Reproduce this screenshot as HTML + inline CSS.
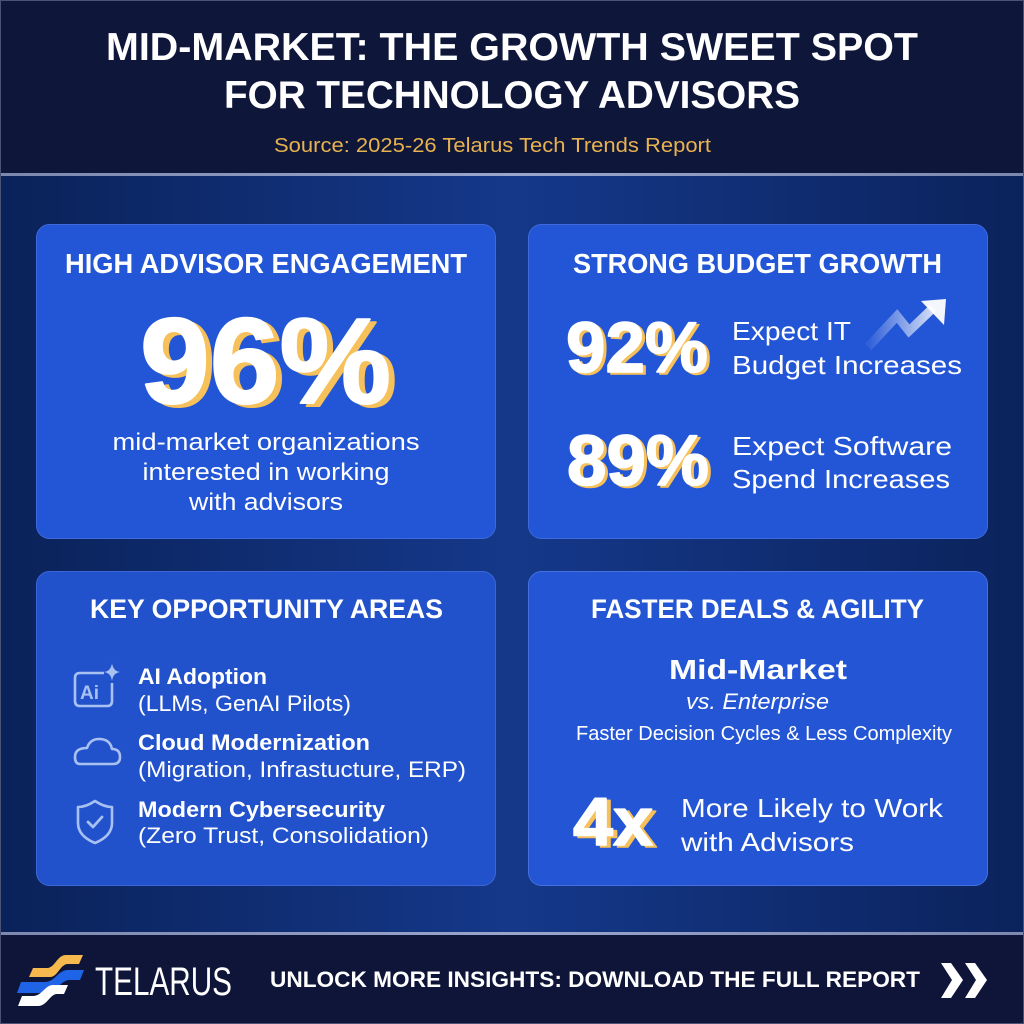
<!DOCTYPE html>
<html>
<head>
<meta charset="utf-8">
<style>
html,body{margin:0;padding:0;background:#0e163a;}
svg{display:block;}
text{font-family:"Liberation Sans",sans-serif;}
</style>
</head>
<body>
<svg width="1024" height="1024" viewBox="0 0 1024 1024" xmlns="http://www.w3.org/2000/svg">
<defs>
  <linearGradient id="mid" x1="0" y1="0" x2="1" y2="0">
    <stop offset="0" stop-color="#0a2259"/>
    <stop offset="0.5" stop-color="#15388a"/>
    <stop offset="1" stop-color="#0b235c"/>
  </linearGradient>
  <linearGradient id="sep" x1="0" y1="0" x2="1" y2="0">
    <stop offset="0" stop-color="#7d88b0"/>
    <stop offset="0.5" stop-color="#9aa6cc"/>
    <stop offset="1" stop-color="#7d88b0"/>
  </linearGradient>
  <linearGradient id="arrow" gradientUnits="userSpaceOnUse" x1="868" y1="0" x2="946" y2="0">
    <stop offset="0" stop-color="#ffffff" stop-opacity="0.05"/>
    <stop offset="0.5" stop-color="#ffffff" stop-opacity="0.5"/>
    <stop offset="1" stop-color="#ffffff" stop-opacity="0.95"/>
  </linearGradient>
</defs>

<!-- header -->
<rect x="0" y="0" width="1024" height="175" fill="#0e163a"/>
<!-- middle -->
<rect x="0" y="175" width="1024" height="760" fill="url(#mid)"/>
<rect x="0" y="173" width="1024" height="3" fill="url(#sep)"/>
<!-- footer -->
<rect x="0" y="935" width="1024" height="89" fill="#0e1539"/>
<rect x="0" y="932" width="1024" height="3" fill="url(#sep)"/>
<rect x="0.5" y="0.5" width="1023" height="1023" fill="none" stroke="#4a5275" stroke-width="1"/>

<!-- header text -->
<text x="106" y="60" font-size="39" font-weight="bold" fill="#ffffff" textLength="812" lengthAdjust="spacingAndGlyphs">MID-MARKET: THE GROWTH SWEET SPOT</text>
<text x="224" y="108" font-size="39" font-weight="bold" fill="#ffffff" textLength="576" lengthAdjust="spacingAndGlyphs">FOR TECHNOLOGY ADVISORS</text>
<text x="274" y="152" font-size="20" fill="#e8b24e" textLength="437" lengthAdjust="spacingAndGlyphs">Source: 2025-26 Telarus Tech Trends Report</text>

<!-- cards -->
<rect x="36.5" y="224.5" width="459" height="314" rx="13" fill="#2356d6" stroke="#3e6ade" stroke-width="1"/>
<rect x="528.5" y="224.5" width="459" height="314" rx="13" fill="#2356d6" stroke="#3e6ade" stroke-width="1"/>
<rect x="36.5" y="571.5" width="459" height="314" rx="13" fill="#2152cb" stroke="#3c66d8" stroke-width="1"/>
<rect x="528.5" y="571.5" width="459" height="314" rx="13" fill="#2355d4" stroke="#4470e0" stroke-width="1"/>

<!-- card 1 -->
<text x="65" y="273" font-size="28" font-weight="bold" fill="#ffffff" textLength="402" lengthAdjust="spacingAndGlyphs">HIGH ADVISOR ENGAGEMENT</text>
<text x="146" y="406" font-size="122" font-weight="bold" fill="#f6c05a" stroke="#f6c05a" stroke-width="2" stroke-linejoin="round" textLength="251" lengthAdjust="spacingAndGlyphs">96%</text>
<text x="140" y="403" font-size="122" font-weight="bold" fill="#ffffff" stroke="#ffffff" stroke-width="2" stroke-linejoin="round" textLength="251" lengthAdjust="spacingAndGlyphs">96%</text>
<text x="266" y="450" font-size="24" fill="#ffffff" text-anchor="middle" textLength="307" lengthAdjust="spacingAndGlyphs">mid-market organizations</text>
<text x="266" y="480" font-size="24" fill="#ffffff" text-anchor="middle" textLength="247" lengthAdjust="spacingAndGlyphs">interested in working</text>
<text x="266" y="510" font-size="24" fill="#ffffff" text-anchor="middle" textLength="154" lengthAdjust="spacingAndGlyphs">with advisors</text>

<!-- card 2 -->
<text x="573" y="273" font-size="28" font-weight="bold" fill="#ffffff" textLength="369" lengthAdjust="spacingAndGlyphs">STRONG BUDGET GROWTH</text>
<text x="569" y="374" font-size="71" font-weight="bold" fill="#f6c05a" stroke="#f6c05a" stroke-width="1.5" stroke-linejoin="round" textLength="142" lengthAdjust="spacingAndGlyphs">92%</text>
<text x="566" y="372" font-size="71" font-weight="bold" fill="#ffffff" stroke="#ffffff" stroke-width="1.5" stroke-linejoin="round" textLength="142" lengthAdjust="spacingAndGlyphs">92%</text>
<text x="732" y="340" font-size="26" fill="#ffffff" textLength="119" lengthAdjust="spacingAndGlyphs">Expect IT</text>
<text x="732" y="374" font-size="26" fill="#ffffff" textLength="230" lengthAdjust="spacingAndGlyphs">Budget Increases</text>
<polyline points="868,347 897,316 909,331 933,308" fill="none" stroke="url(#arrow)" stroke-width="9" stroke-linejoin="miter"/>
<polygon points="921,301 946,299 944,325" fill="#ffffff" fill-opacity="0.95"/>
<text x="570" y="487" font-size="71" font-weight="bold" fill="#f6c05a" stroke="#f6c05a" stroke-width="1.5" stroke-linejoin="round" textLength="142" lengthAdjust="spacingAndGlyphs">89%</text>
<text x="567" y="485" font-size="71" font-weight="bold" fill="#ffffff" stroke="#ffffff" stroke-width="1.5" stroke-linejoin="round" textLength="142" lengthAdjust="spacingAndGlyphs">89%</text>
<text x="732" y="455" font-size="26" fill="#ffffff" textLength="220" lengthAdjust="spacingAndGlyphs">Expect Software</text>
<text x="732" y="488" font-size="26" fill="#ffffff" textLength="218" lengthAdjust="spacingAndGlyphs">Spend Increases</text>

<!-- card 3 -->
<text x="90" y="618" font-size="27" font-weight="bold" fill="#ffffff" textLength="353" lengthAdjust="spacingAndGlyphs">KEY OPPORTUNITY AREAS</text>
<!-- AI icon -->
<path d="M104,673 L80,673 Q75,673 75,678 L75,701 Q75,706 80,706 L107,706 Q112,706 112,701 L112,683" fill="none" stroke="#a9c1f2" stroke-width="2.6"/>
<text x="80" y="699" font-size="19" font-weight="bold" fill="#a9c1f2">Ai</text>
<path d="M112,663 Q113,671 120,672 Q113,673 112,681 Q111,673 104,672 Q111,671 112,663 Z" fill="#a9c1f2"/>
<!-- cloud icon -->
<path d="M80,764 L113,764 Q120,764 120,757 Q120,749 112,749 Q110,739 99,739 Q90,739 87,748 Q75,748 75,757 Q75,764 80,764 Z" fill="none" stroke="#a9c1f2" stroke-width="2.6" stroke-linejoin="round"/>
<!-- shield icon -->
<path d="M95,801 Q104,807 112,807 L112,823 Q112,836 95,843 Q78,836 78,823 L78,807 Q86,807 95,801 Z" fill="none" stroke="#a9c1f2" stroke-width="2.6" stroke-linejoin="round"/>
<polyline points="88,822 93,827 102,817" fill="none" stroke="#a9c1f2" stroke-width="2.8" stroke-linecap="round" stroke-linejoin="round"/>
<text x="138" y="684" font-size="22" font-weight="bold" fill="#ffffff" textLength="129" lengthAdjust="spacingAndGlyphs">AI Adoption</text>
<text x="138" y="711" font-size="22" fill="#ffffff" textLength="213" lengthAdjust="spacingAndGlyphs">(LLMs, GenAI Pilots)</text>
<text x="138" y="750" font-size="22" font-weight="bold" fill="#ffffff" textLength="232" lengthAdjust="spacingAndGlyphs">Cloud Modernization</text>
<text x="138" y="777" font-size="22" fill="#ffffff" textLength="328" lengthAdjust="spacingAndGlyphs">(Migration, Infrastucture, ERP)</text>
<text x="138" y="817" font-size="22" font-weight="bold" fill="#ffffff" textLength="247" lengthAdjust="spacingAndGlyphs">Modern Cybersecurity</text>
<text x="138" y="843" font-size="22" fill="#ffffff" textLength="291" lengthAdjust="spacingAndGlyphs">(Zero Trust, Consolidation)</text>

<!-- card 4 -->
<text x="591" y="618" font-size="27" font-weight="bold" fill="#ffffff" textLength="333" lengthAdjust="spacingAndGlyphs">FASTER DEALS &amp; AGILITY</text>
<text x="669" y="679" font-size="28" font-weight="bold" fill="#ffffff" textLength="178" lengthAdjust="spacingAndGlyphs">Mid-Market</text>
<text x="686" y="709" font-size="22" font-style="italic" fill="#ffffff" textLength="143" lengthAdjust="spacingAndGlyphs">vs. Enterprise</text>
<text x="576" y="740" font-size="20" fill="#ffffff" textLength="376" lengthAdjust="spacingAndGlyphs">Faster Decision Cycles &amp; Less Complexity</text>
<text x="577" y="847" font-size="68" font-weight="bold" fill="#f6c05a" stroke="#f6c05a" stroke-width="1.5" stroke-linejoin="round" textLength="80" lengthAdjust="spacingAndGlyphs">4x</text>
<text x="573" y="845" font-size="68" font-weight="bold" fill="#ffffff" stroke="#ffffff" stroke-width="1.5" stroke-linejoin="round" textLength="80" lengthAdjust="spacingAndGlyphs">4x</text>
<text x="681" y="817" font-size="26" fill="#ffffff" textLength="262" lengthAdjust="spacingAndGlyphs">More Likely to Work</text>
<text x="681" y="851" font-size="26" fill="#ffffff" textLength="173" lengthAdjust="spacingAndGlyphs">with Advisors</text>

<!-- footer logo -->
<path d="M29,977 L33,968 L47,968 C55,968 57,955 66,955 L83,955 L79,964 L68,964 C60,964 58,977 50,977 Z" fill="#f5b94e"/>
<path d="M17,993 L21,982 L45,982 C55,982 58,970 68,970 L84,970 L80,980 L70,980 C60,980 57,993 47,993 Z" fill="#1f63e6"/>
<path d="M18,1006 L22,996 L33,996 C42,996 45,985 53,985 L68,985 L64,994 L57,994 C50,994 47,1006 38,1006 Z" fill="#ffffff"/>
<text x="95" y="995" font-size="40" fill="#ffffff" textLength="137" lengthAdjust="spacingAndGlyphs">TELARUS</text>
<text x="270" y="987" font-size="22" font-weight="bold" fill="#ffffff" textLength="650" lengthAdjust="spacingAndGlyphs">UNLOCK MORE INSIGHTS: DOWNLOAD THE FULL REPORT</text>
<polygon points="941,963 951,963 963,980 951,998 941,998 952,980" fill="#ffffff"/>
<polygon points="965,963 975,963 987,980 975,998 965,998 976,980" fill="#ffffff"/>
</svg>
</body>
</html>
